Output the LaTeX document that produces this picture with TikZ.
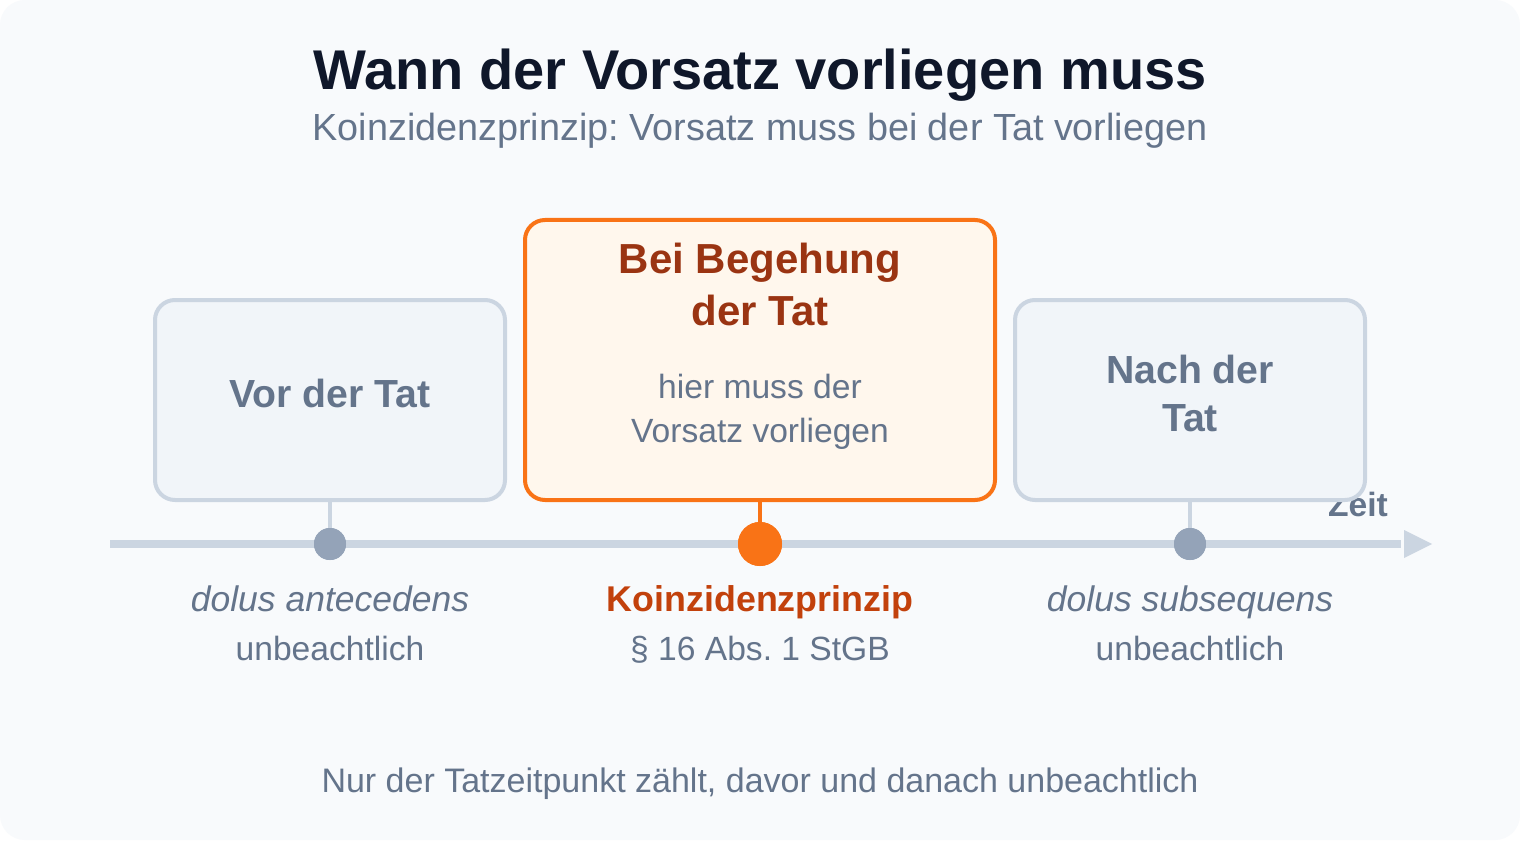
\documentclass[tikz,border=0pt]{standalone}
\usepackage{fontspec}
\setmainfont{Liberation Sans}
\frenchspacing
\definecolor{bgc}{HTML}{F8FAFC}
\definecolor{titlec}{HTML}{0F172A}
\definecolor{slate}{HTML}{64748B}
\definecolor{linec}{HTML}{CBD5E1}
\definecolor{dotc}{HTML}{94A3B8}
\definecolor{boxfill}{HTML}{F1F5F9}
\definecolor{orange}{HTML}{F97316}
\definecolor{orangefill}{HTML}{FFF7ED}
\definecolor{darkorange}{HTML}{9A3412}
\definecolor{koinc}{HTML}{C2410C}
\newcommand{\fs}[1]{\fontsize{#1}{#1}\selectfont}
\begin{document}
\frenchspacing
\begin{tikzpicture}[x=1pt,y=-1pt,
  txt/.style={anchor=base,inner sep=0pt,outer sep=0pt,execute at begin node=\frenchspacing},
  graybox/.style={draw=linec,line width=4pt,fill=boxfill,rounded corners=20pt,minimum width=350pt,minimum height=200pt,inner sep=0pt,outer sep=0pt},
  orangebox/.style={draw=orange,line width=4pt,fill=orangefill,rounded corners=20pt,minimum width=470pt,minimum height=280pt,inner sep=0pt,outer sep=0pt},
  graydot/.style={circle,fill=dotc,minimum size=32pt,inner sep=0pt},
  orangedot/.style={circle,fill=orange,minimum size=44pt,inner sep=0pt},
  stem/.style={draw=linec,line width=4pt},
  ostem/.style={draw=orange,line width=4pt}]
\useasboundingbox (0,0) rectangle (1520,850);
\fill[white] (0,0) rectangle (1520,850);
\fill[bgc,rounded corners=25pt] (0,0) rectangle (1520,840);
% titles
\node[txt,text=titlec,font=\fs{56}\bfseries] (title) at (760,90) {Wann der Vorsatz vorliegen muss};
\node[txt,text=slate,font=\fs{37.8}] (subtitle) at (760,141) {Koinzidenzprinzip: Vorsatz muss bei der Tat vorliegen};
% timeline
\coordinate (tlstart) at (110,544);
\coordinate (tlend) at (1401,544);
\draw[linec,line width=8pt] (tlstart) -- (tlend);
\fill[linec] (1404,530) -- (1432,544) -- (1404,558) -- cycle;
\node[txt,text=slate,font=\fs{33.6}\bfseries] (zeit) at (1358,516) {Zeit};
% boxes
\node[graybox] (vor) at (330,400) {};
\node[orangebox] (bei) at (760,360) {};
\node[graybox] (nach) at (1190,400) {};
% dots
\node[graydot] (d1) at (330,544) {};
\node[orangedot] (d2) at (760,544) {};
\node[graydot] (d3) at (1190,544) {};
% stems
\draw[stem] (vor.south) -- (d1.north);
\draw[ostem] (bei.south) -- (d2.north);
\draw[stem] (nach.south) -- (d3.north);
\node[graydot] at (d1) {};
\node[graydot] at (d3) {};
\node[orangedot] at (d2) {};
% box texts
\node[txt,text=slate,font=\fs{39.2}\bfseries] (vort) at (330,407) {Vor der Tat};
\node[txt,text=darkorange,font=\fs{42}\bfseries] (beit1) at (760,273) {Bei Begehung};
\node[txt,text=darkorange,font=\fs{42}\bfseries] (beit2) at (760,325) {der Tat};
\node[txt,text=slate,font=\fs{33.6}] (beis1) at (760,398) {hier muss der};
\node[txt,text=slate,font=\fs{33.6}] (beis2) at (760,442) {Vorsatz vorliegen};
\node[txt,text=slate,font=\fs{39.2}\bfseries] (nacht1) at (1190,383) {Nach der};
\node[txt,text=slate,font=\fs{39.2}\bfseries] (nacht2) at (1190,431) {Tat};
% labels below
\node[txt,text=slate,font=\fs{35.5}\itshape] (l1a) at (330,611) {dolus antecedens};
\node[txt,text=slate,font=\fs{33.6}] (l1b) at (330,660) {unbeachtlich};
\node[txt,text=koinc,font=\fs{35.8}\bfseries] (l2a) at (760,611) {Koinzidenzprinzip};
\node[txt,text=slate,font=\fs{33.6}] (l2b) at (760,660) {§ 16 Abs. 1 StGB};
\node[txt,text=slate,font=\fs{35.5}\itshape] (l3a) at (1190,611) {dolus subsequens};
\node[txt,text=slate,font=\fs{33.6}] (l3b) at (1190,660) {unbeachtlich};
% footer
\node[txt,text=slate,font=\fs{34}] (footer) at (760,792) {Nur der Tatzeitpunkt zählt, davor und danach unbeachtlich};
\end{tikzpicture}
\end{document}
